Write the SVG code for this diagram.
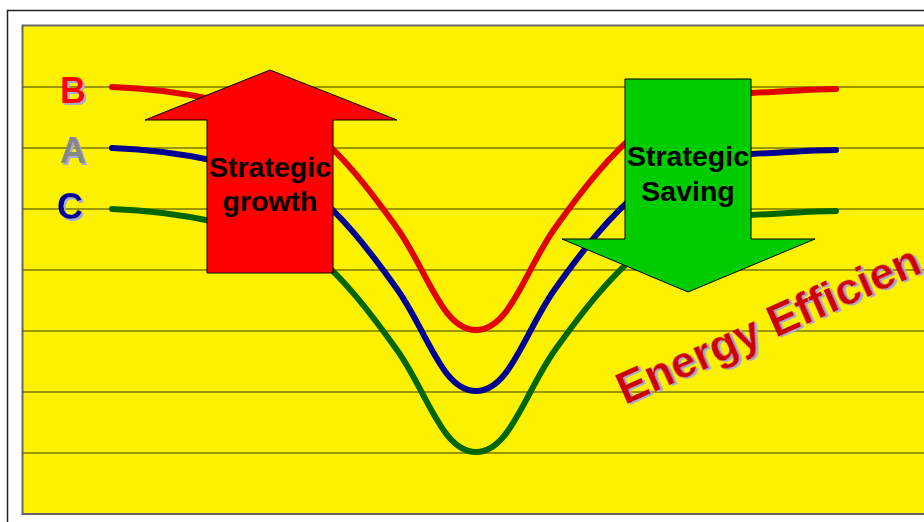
<svg xmlns="http://www.w3.org/2000/svg" width="924" height="522" viewBox="0 0 924 522">
<style>
.grid{stroke:#3a3a00;stroke-width:1;fill:none}
.curve{fill:none;stroke-width:6;stroke-linecap:round;stroke-linejoin:round}
.lbl{font-family:"Liberation Sans",Arial,sans-serif;font-weight:bold;filter:url(#shadow)}
.arrowtxt{font-family:"Liberation Sans",Arial,sans-serif;font-weight:bold;font-size:28.5px;fill:#000;text-anchor:middle}
</style>
<defs>
<filter id="shadow" x="-10%" y="-20%" width="130%" height="150%">
<feDropShadow dx="2" dy="2" stdDeviation="0.3" flood-color="#a8a8d0" flood-opacity="1"/>
</filter>
<path id="wave" d="M112,87 C180,89 270,108 312,130 C342,155 367,186 397,228 C427,270 442,330 476,330 C510,330 525,270 555,228 C585,186 610,155 640,130 C670,105 710,95 751,93 C790,91 815,89 836,89"/>
</defs>
<rect x="0" y="0" width="924" height="522" fill="#ffffff"/>
<path d="M7.5,522 V10.5 H924" fill="none" stroke="#222" stroke-width="1.5"/>
<g id="plot">
<rect x="22.5" y="25.5" width="910" height="488.5" fill="#FCF200" stroke="#666" stroke-width="2"/>
<g class="grid">
<line x1="23" y1="87" x2="924" y2="87"/>
<line x1="23" y1="148" x2="924" y2="148"/>
<line x1="23" y1="209" x2="924" y2="209"/>
<line x1="23" y1="270" x2="924" y2="270"/>
<line x1="23" y1="331" x2="924" y2="331"/>
<line x1="23" y1="392" x2="924" y2="392"/>
<line x1="23" y1="453" x2="924" y2="453"/>
</g>
</g>
<g id="connectors">
<use href="#wave" class="curve" stroke="#E00000"/>
<use href="#wave" class="curve" stroke="#000090" transform="translate(0,61)"/>
<use href="#wave" class="curve" stroke="#006600" transform="translate(0,122)"/>
</g>
<g id="label-B">
<text class="lbl" x="73" y="103" font-size="36" text-anchor="middle" fill="#FF0000">B</text>
</g>
<g id="label-A">
<text class="lbl" x="73" y="163" font-size="36" text-anchor="middle" fill="#888888">A</text>
</g>
<g id="label-C">
<text class="lbl" x="70" y="219" font-size="36" text-anchor="middle" fill="#000099">C</text>
</g>
<g id="strategic-growth">
<polygon points="270,70 397,120 333,120 333,273 207,273 207,120 145,120" fill="#FF0000" stroke="#000" stroke-width="1"/>
<text class="arrowtxt" x="270" y="177">Strategic</text>
<text class="arrowtxt" x="270" y="211">growth</text>
</g>
<g id="strategic-saving">
<polygon points="625,79 751,79 751,239 815,239 688,292 562,239 625,239" fill="#00CC00" stroke="#000" stroke-width="1"/>
<text class="arrowtxt" x="688" y="166">Strategic</text>
<text class="arrowtxt" x="688" y="201">Saving</text>
</g>
<g id="energy-efficiency">
<text class="lbl" x="625" y="405" font-size="45" fill="#CC0000" transform="rotate(-24 625 405)">Energy Efficien</text>
</g>
</svg>
